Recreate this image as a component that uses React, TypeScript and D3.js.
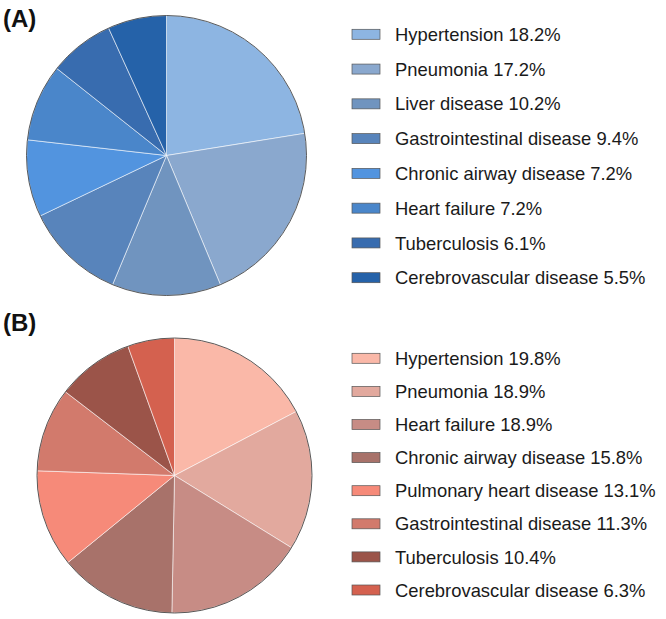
import * as d3 from "d3";

// panel A
const causesA = [
  "Hypertension",
  "Pneumonia",
  "Liver disease",
  "Gastrointestinal disease",
  "Chronic airway disease",
  "Heart failure",
  "Tuberculosis",
  "Cerebrovascular disease",
];
const valuesA = [18.2, 17.2, 10.2, 9.4, 7.2, 7.2, 6.1, 5.5];
const colorsA = ["#8db5e2", "#8aa8ce", "#7094bf", "#5884bb", "#5294df", "#4a86ca", "#386caf", "#2562a9"];

// panel B
const causesB = [
  "Hypertension",
  "Pneumonia",
  "Heart failure",
  "Chronic airway disease",
  "Pulmonary heart disease",
  "Gastrointestinal disease",
  "Tuberculosis",
  "Cerebrovascular disease",
];
const valuesB = [19.8, 18.9, 18.9, 15.8, 13.1, 11.3, 10.4, 6.3];
const colorsB = ["#fab8a8", "#e2a99e", "#c78c85", "#a8726a", "#f68a79", "#d27a6c", "#9b5449", "#d4614f"];

const W = 666;
const H = 619;
const FONT = "'Liberation Sans', Arial, Helvetica, sans-serif";

type PanelProps = {
  tag: string;
  tagY: number;
  cats: string[];
  vals: number[];
  colors: string[];
  cx: number;
  cy: number;
  r: number;
  legendTop: number;
  legendBottom: number;
};

const Panel = ({ tag, tagY, cats, vals, colors, cx, cy, r, legendTop, legendBottom }: PanelProps) => {
  const pie = d3.pie<number>().sort(null).value((d) => d);
  const arcs = pie(vals);
  const arc = d3.arc<d3.PieArcDatum<number>>().innerRadius(0).outerRadius(r);
  const color = d3.scaleOrdinal<string, string>().domain(cats).range(colors);
  const y = d3.scalePoint<string>().domain(cats).range([legendTop, legendBottom]);

  return (
    <g>
      <text x={3} y={tagY} fontFamily={FONT} fontWeight="bold" fontSize={24} fill="#111">
        {tag}
      </text>
      <g transform={`translate(${cx},${cy})`}>
        {arcs.map((a, i) => (
          <path
            key={i}
            d={arc(a) ?? ""}
            fill={color(cats[i])}
            stroke="rgba(255,255,255,0.55)"
            strokeWidth={1}
          />
        ))}
        <circle r={r} fill="none" stroke="#4a4a4a" strokeWidth={0.9} />
      </g>
      <g>
        {cats.map((c, i) => (
          <g key={c} transform={`translate(0,${y(c)})`}>
            <rect x={352} y={-5} width={28} height={10} fill={color(c)} stroke="#555" strokeWidth={0.7} />
            <text x={395} dy="0.36em" fontFamily={FONT} fontSize={18.4} fill="#1a1a1a">
              {`${c} ${vals[i].toFixed(1)}%`}
            </text>
          </g>
        ))}
      </g>
    </g>
  );
};

export default function App() {
  return (
    <svg
      width={W}
      height={H}
      style={{ position: "absolute", left: 0, top: 0, background: "#fff" }}
    >
      <rect width={W} height={H} fill="#fff" />
      <Panel
        tag="(A)"
        tagY={27}
        cats={causesA}
        vals={valuesA}
        colors={colorsA}
        cx={166.5}
        cy={155.5}
        r={140}
        legendTop={34.3}
        legendBottom={277.7}
      />
      <Panel
        tag="(B)"
        tagY={331}
        cats={causesB}
        vals={valuesB}
        colors={colorsB}
        cx={174.5}
        cy={475.5}
        r={137.5}
        legendTop={358.3}
        legendBottom={590}
      />
    </svg>
  );
}
